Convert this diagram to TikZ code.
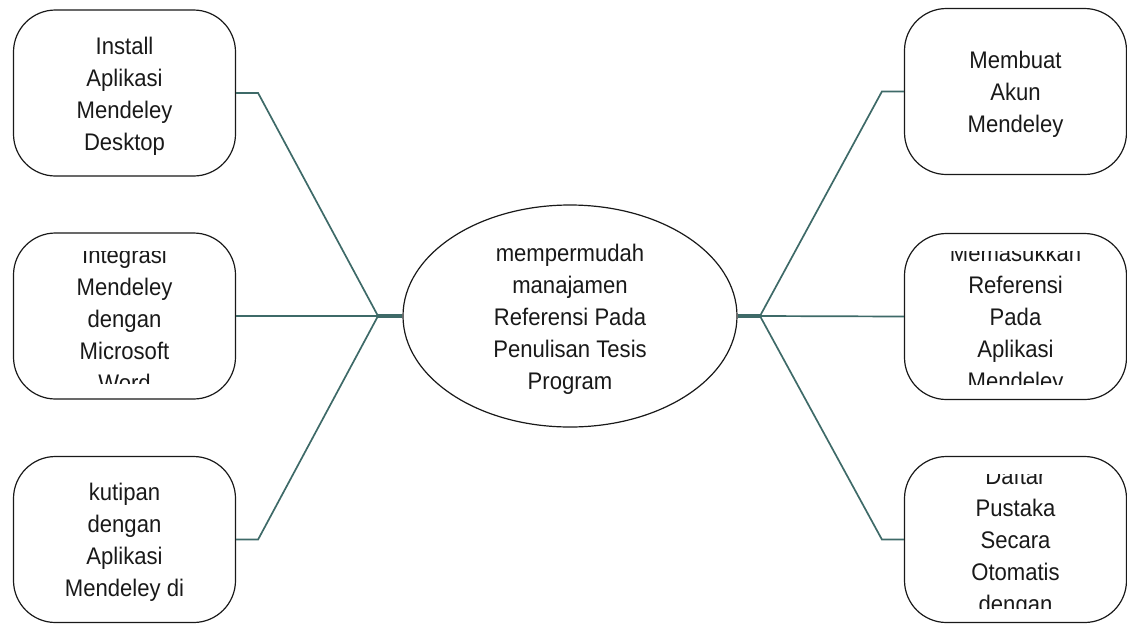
\documentclass[tikz,border=0pt]{standalone}
\usepackage{fontspec}
\setmainfont[FakeStretch=0.92]{Liberation Sans}
\usepackage{tikz}
\usetikzlibrary{shapes.geometric, positioning}
\definecolor{mind_teal}{RGB}{62, 106, 104}
\definecolor{mind_ink}{RGB}{25, 25, 25}

\tikzset{
    box/.style={draw=mind_ink, line width=1.2pt, rounded corners=42pt,
        minimum width=222pt, minimum height=166pt},
    hub/.style={ellipse, draw=mind_ink, line width=1.2pt,
        minimum width=334pt, minimum height=222pt},
    boxtext/.style={align=center, inner sep=0pt, text=mind_ink, yshift=-3pt,
        font=\fontsize{24}{32}\selectfont},
    link/.style={draw=mind_teal, line width=1.7pt},
    stem/.style={draw=mind_teal, line width=3.2pt}
}

\begin{document}
\begin{tikzpicture}[x=1pt, y=-1pt]
    \useasboundingbox (0,0) rectangle (1127,625);

    % Left steps
    \node[box] (inst) at (124.5,93) {};
    \node[boxtext] (inst-text) at (inst) {Install\\Aplikasi\\Mendeley\\Desktop};

    \node[box] (integ) at (124.5,316) {};
    \begin{scope}
        \clip ([yshift=-19pt]integ.north west) rectangle ([yshift=16pt]integ.south east);
        \node[boxtext] (integ-text) at (integ) {Integrasi\\Mendeley\\dengan\\Microsoft\\Word};
    \end{scope}

    \node[box] (kutip) at (124.5,539.5) {};
    \node[boxtext] (kutip-text) at (kutip) {kutipan\\dengan\\Aplikasi\\Mendeley di};

    % Right steps
    \node[box] (akun) at (1015.5,91.5) {};
    \node[boxtext] (akun-text) at (akun) {Membuat\\Akun\\Mendeley};

    \node[box] (masuk) at (1015.5,316.5) {};
    \begin{scope}
        \clip ([yshift=-19pt]masuk.north west) rectangle ([yshift=16pt]masuk.south east);
        \node[boxtext] (masuk-text) at (masuk) {Memasukkan\\Referensi\\Pada\\Aplikasi\\Mendeley};
    \end{scope}

    \node[box] (pustaka) at (1015.5,539.5) {};
    \begin{scope}
        \clip ([yshift=-19pt]pustaka.north west) rectangle ([yshift=15pt]pustaka.south east);
        \node[boxtext] (pustaka-text) at (pustaka) {Daftar\\Pustaka\\Secara\\Otomatis\\dengan};
    \end{scope}

    % Centre
    \node[hub] (hub) at (570,316) {};
    \node[boxtext] (hub-text) at (hub) {mempermudah\\manajamen\\Referensi Pada\\Penulisan Tesis\\Program};

    % Junctions
    \coordinate (jl) at (378,316);
    \coordinate (jr) at (760,316);

    % Connectors
    \draw[stem] (jl) -- (hub.west);
    \draw[stem] (hub.east) -- (jr);
    \draw[link] (inst.east) -- ++(22,0) -- (jl);
    \draw[link] (integ.east) -- (jl);
    \draw[link] (kutip.east) -- ++(22,0) -- (jl);
    \draw[link] (akun.west) -- ++(-22,0) -- (jr);
    \draw[link] (masuk.west) -- (jr);
    \draw[link] (pustaka.west) -- ++(-22,0) -- (jr);
\end{tikzpicture}
\end{document}
